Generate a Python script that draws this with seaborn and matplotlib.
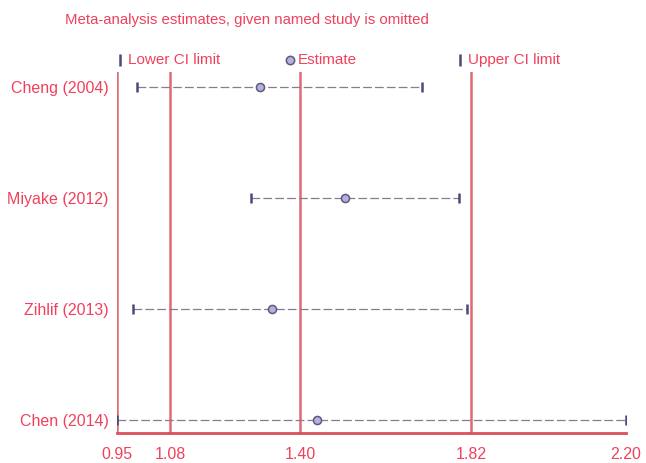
import matplotlib
matplotlib.use("Agg")
import matplotlib.pyplot as plt
import seaborn as sns
import pandas as pd
from matplotlib import font_manager

# Leave-one-out meta-analysis results
studies = ["Cheng (2004)", "Miyake (2012)", "Zihlif (2013)", "Chen (2014)"]
estimates = [1.30, 1.51, 1.33, 1.44]
lower_ci = [1.00, 1.28, 0.99, 0.95]
upper_ci = [1.70, 1.79, 1.81, 2.20]
ref_lines = [0.95, 1.08, 1.40, 1.82]
x_ticks = [0.95, 1.08, 1.40, 1.82, 2.20]
tick_labels = ["0.95", "1.08", "1.40", "1.82", "2.20"]

df = pd.DataFrame({
    "study": studies,
    "row": list(range(len(studies))),
    "estimate": estimates,
    "lower": lower_ci,
    "upper": upper_ci,
})

RED = "#f0415c"
LINE_RED = "#d9505c"
MARK = "#4a4a78"
FILL = "#b4b0e0"

sns.set_style("white")
plt.rcParams["font.family"] = ["Liberation Sans", "DejaVu Sans"]

installed = {f.name for f in font_manager.fontManager.ttflist}
title_family = ["Liberation Sans Narrow"] if "Liberation Sans Narrow" in installed \
    else ["Liberation Sans"]
title_size = 13.2 if "Liberation Sans Narrow" in installed else 10.8

fig = plt.figure(figsize=(6.46, 4.63), dpi=100)
W, H = 646, 463
ax = fig.add_axes([117 / W, (H - 433) / H, (626 - 117) / W, (433 - 72) / H])

# Reference lines
for v in ref_lines:
    ax.axvline(v, color=LINE_RED, lw=1.8, alpha=0.85, zorder=1)

# Confidence interval lines
ax.hlines(df["row"], df["lower"], df["upper"], colors="#8a7c90", lw=0.9,
          linestyles=(0, (7, 2.5)), zorder=2)

# CI limits and point estimates
sns.scatterplot(data=df, x="lower", y="row", marker="|", s=60, color=MARK,
                linewidth=1.8, ax=ax, zorder=3, legend=False)
sns.scatterplot(data=df, x="upper", y="row", marker="|", s=60, color=MARK,
                linewidth=1.8, ax=ax, zorder=3, legend=False)
sns.scatterplot(data=df, x="estimate", y="row", marker="o", s=34,
                color=FILL, edgecolor="#5a5a7a", linewidth=1.1, ax=ax,
                zorder=4, legend=False)

ax.set_xlim(0.95, 2.20)
ax.set_ylim(3 + 13 / 110, -15 / 110)
ax.set_xticks(x_ticks)
ax.set_xticklabels(tick_labels)
ax.set_yticks(df["row"])
ax.set_yticklabels(studies)
ax.tick_params(axis="both", length=0, labelsize=11.5, labelcolor=RED)
ax.tick_params(axis="x", pad=10)
ax.tick_params(axis="y", pad=6)
ax.set_xlabel("")
ax.set_ylabel("")

for side in ["top", "right", "left"]:
    ax.spines[side].set_visible(False)
ax.spines["bottom"].set_color(LINE_RED)
ax.spines["bottom"].set_linewidth(2)

# Legend row
leg_y = (H - 60) / H
items = [(120, "|", "Lower CI limit"), (290, "o", "Estimate"),
         (460, "|", "Upper CI limit")]
for px, mk, label in items:
    if mk == "o":
        fig.lines.append(plt.Line2D([px / W], [leg_y], marker="o", ms=6,
                                    mfc=FILL, mec="#5a5a7a", mew=1.1,
                                    transform=fig.transFigure))
    else:
        fig.lines.append(plt.Line2D([px / W], [leg_y], marker="|", ms=9,
                                    mew=1.8, color=MARK,
                                    transform=fig.transFigure))
    fig.text((px + 8) / W, leg_y, label, color=RED, fontsize=11,
             va="center", ha="left")

fig.text(65 / W, (H - 20) / H,
         "Meta-analysis estimates, given named study is omitted",
         color=RED, fontsize=title_size, family=title_family,
         va="center", ha="left")

fig.savefig("out.png", dpi=100)
